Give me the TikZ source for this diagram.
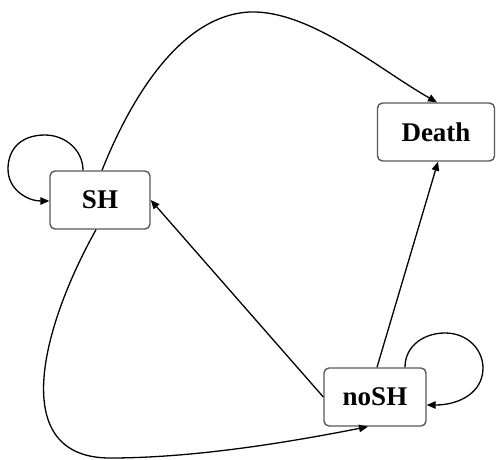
\documentclass[tikz,border=0pt]{standalone}
\usepackage{fontspec}
\setmainfont{Liberation Serif}
\usetikzlibrary{arrows.meta}
\begin{document}
\begin{tikzpicture}[x=1pt,y=-1pt,
  state/.style={draw=black!65, line width=1.4pt, rounded corners=5pt, fill=white,
    minimum height=58pt, inner sep=0pt, font=\fontsize{27}{31}\selectfont\bfseries},
  edge/.style={line width=1.3pt, -{Triangle[length=9pt,width=7.5pt]}}]
\useasboundingbox (0,0) rectangle (496,460);
\node[state, minimum width=100pt] (SH) at (100,200) {SH};
\node[state, minimum width=117pt] (Death) at (436,132) {Death};
\node[state, minimum width=102pt] (noSH) at (375,397) {noSH};
% self loop SH
\draw[edge] ([xshift=-17pt]SH.north) .. controls (83,150) and (65,135) .. (45,135)
  .. controls (20,135) and (8,150) .. (8,169)
  .. controls (8,190) and (28,201) .. ([yshift=-1pt]SH.west);
% SH -> Death
\draw[edge] ([xshift=2pt]SH.north) .. controls (130,100) and (180,15) .. (250,12)
  .. controls (310,10) and (380,70) .. ([xshift=1pt]Death.north);
% SH -> noSH
\draw[edge] ([xshift=-4pt]SH.south) .. controls (40,330) and (8,458) .. (110,458)
  .. controls (200,458) and (300,440) .. ([xshift=-7pt]noSH.south);
% noSH -> SH
\draw[edge] (noSH.west) -- (SH.east);
% noSH -> Death
\draw[edge] ([xshift=2pt]noSH.north) -- ([xshift=2pt]Death.south);
% self loop noSH
\draw[edge] ([xshift=30pt]noSH.north) .. controls (405,345) and (425,333) .. (445,333)
  .. controls (468,333) and (483,350) .. (483,368)
  .. controls (483,392) and (460,405) .. ([yshift=-8pt]noSH.east);
\end{tikzpicture}
\end{document}
